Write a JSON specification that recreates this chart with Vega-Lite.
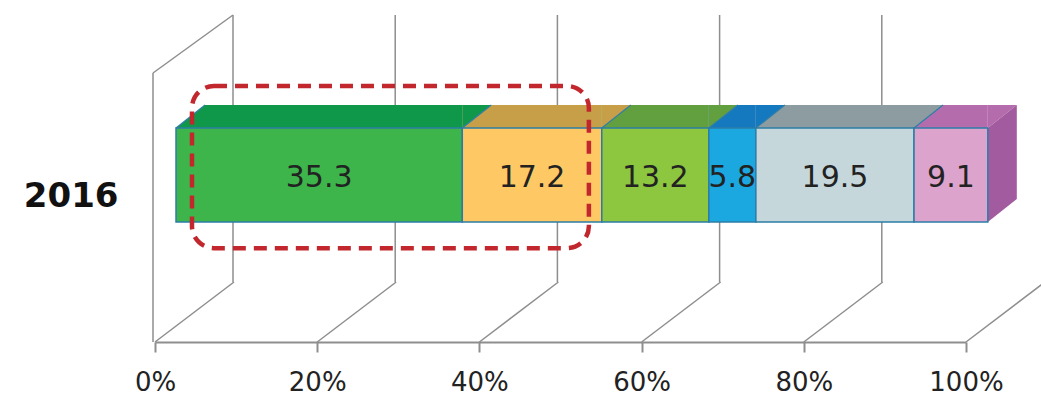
{
  "$schema": "https://vega.github.io/schema/vega-lite/v6.json",
  "width": 1041,
  "height": 342,
  "autosize": {"type": "none"},
  "padding": {"left": 0, "top": 0, "right": 0, "bottom": 55},
  "background": "white",
  "config": {"view": {"stroke": null}, "font": "DejaVu Sans"},
  "datasets": {
    "shares": [
      {"year": "2016", "segment": "A", "order": 1, "value": 35.3},
      {"year": "2016", "segment": "B", "order": 2, "value": 17.2},
      {"year": "2016", "segment": "C", "order": 3, "value": 13.2},
      {"year": "2016", "segment": "D", "order": 4, "value": 5.8},
      {"year": "2016", "segment": "E", "order": 5, "value": 19.5},
      {"year": "2016", "segment": "F", "order": 6, "value": 9.1}
    ],
    "ticks": [{"t": 0}, {"t": 20}, {"t": 40}, {"t": 60}, {"t": 80}, {"t": 100}]
  },
  "layer": [
    {
      "data": {"name": "ticks"},
      "mark": {"type": "rule", "x2Offset": 79, "color": "#8e8e8e", "strokeWidth": 1.5},
      "encoding": {
        "x": {"field": "t", "type": "quantitative",
          "scale": {"domain": [0, 100], "range": [155, 966], "nice": false, "zero": false},
          "axis": {"values": [0, 20, 40, 60, 80, 100], "labelExpr": "datum.value + '%'", "title": null, "grid": false,
            "domainColor": "#8e8e8e", "domainWidth": 2, "tickColor": "#8e8e8e", "tickWidth": 2, "tickSize": 10,
            "labelFont": "DejaVu Sans", "labelFontSize": 26, "labelColor": "#222222", "labelPadding": 17, "labelFlush": false}},
        "x2": {"field": "t"},
        "y": {"datum": 0, "type": "quantitative", "scale": {"domain": [0, 100], "range": [342, 15], "nice": false, "zero": false}, "axis": null},
        "y2": {"datum": 18.35}
      }
    },
    {
      "data": {"name": "ticks"},
      "mark": {"type": "rule", "xOffset": 78, "color": "#8e8e8e", "strokeWidth": 1.5},
      "encoding": {
        "x": {"field": "t", "type": "quantitative"},
        "y": {"datum": 18.35, "type": "quantitative", "axis": null},
        "y2": {"datum": 100}
      }
    },
    {
      "data": {"name": "ticks"},
      "transform": [{"filter": "datum.t == 0"}],
      "mark": {"type": "rule", "xOffset": -2, "color": "#8e8e8e", "strokeWidth": 1.5},
      "encoding": {
        "x": {"field": "t", "type": "quantitative"},
        "y": {"datum": 0, "type": "quantitative", "axis": null},
        "y2": {"datum": 82.26}
      }
    },
    {
      "data": {"name": "ticks"},
      "transform": [{"filter": "datum.t == 0"}],
      "mark": {"type": "rule", "xOffset": -2, "x2Offset": 78, "color": "#8e8e8e", "strokeWidth": 1.5},
      "encoding": {
        "x": {"field": "t", "type": "quantitative"},
        "x2": {"field": "t"},
        "y": {"datum": 82.26, "type": "quantitative", "axis": null},
        "y2": {"datum": 100}
      }
    },
    {
      "data": {"name": "shares"},
      "transform": [{"stack": "value", "groupby": ["year"], "sort": [{"field": "order", "order": "ascending"}], "as": ["v", "v_end"]}],
      "mark": {"type": "rect", "xOffset": 21, "x2Offset": 21, "strokeWidth": 0},
      "encoding": {
        "x": {"field": "v", "type": "quantitative"},
        "x2": {"field": "v_end"},
        "y": {"datum": 65.44, "type": "quantitative", "axis": null},
        "y2": {"datum": 72.48},
        "fill": {"field": "segment", "type": "nominal", "legend": null,
          "scale": {"domain": ["A", "B", "C", "D", "E", "F"], "range": ["#10984a", "#c79f48", "#62a03f", "#1479be", "#8d9ca0", "#b56cac"]}}
      }
    },
    {
      "data": {"name": "shares"},
      "transform": [{"stack": "value", "groupby": ["year"], "sort": [{"field": "order", "order": "ascending"}], "as": ["v", "v_end"]}],
      "mark": {"type": "point", "shape": "M0,-23L29,-23L0,0Z", "size": 4, "filled": true, "opacity": 1, "strokeWidth": 0, "xOffset": 21},
      "encoding": {
        "x": {"field": "v_end", "type": "quantitative"},
        "y": {"datum": 65.44, "type": "quantitative", "axis": null},
        "fill": {"field": "segment", "type": "nominal", "legend": null}
      }
    },
    {
      "data": {"name": "ticks"},
      "transform": [{"filter": "datum.t == 0"}],
      "mark": {"type": "point", "shape": "M0,-23L29,-23L0,0Z", "size": 4, "filled": true, "opacity": 1, "strokeWidth": 0, "xOffset": 21, "fill": "white"},
      "encoding": {
        "x": {"field": "t", "type": "quantitative"},
        "y": {"datum": 65.44, "type": "quantitative", "axis": null}
      }
    },
    {
      "data": {"name": "shares"},
      "transform": [
        {"stack": "value", "groupby": ["year"], "sort": [{"field": "order", "order": "ascending"}], "as": ["v", "v_end"]},
        {"filter": "datum.segment == 'F'"}
      ],
      "mark": {"type": "point", "shape": "M0,0L29,-23L29,71L0,94Z", "size": 4, "filled": true, "opacity": 1, "strokeWidth": 0, "xOffset": 21, "fill": "#a35b9f"},
      "encoding": {
        "x": {"field": "v_end", "type": "quantitative"},
        "y": {"datum": 65.44, "type": "quantitative", "axis": null}
      }
    },
    {
      "data": {"name": "shares"},
      "transform": [{"stack": "value", "groupby": ["year"], "sort": [{"field": "order", "order": "ascending"}], "as": ["v", "v_end"]}],
      "mark": {"type": "rule", "xOffset": 21, "x2Offset": 50, "color": "#2f7fa8", "strokeWidth": 1.2},
      "encoding": {
        "x": {"field": "v", "type": "quantitative"},
        "x2": {"field": "v"},
        "y": {"datum": 65.44, "type": "quantitative", "axis": null},
        "y2": {"datum": 72.48}
      }
    },
    {
      "data": {"name": "shares"},
      "transform": [{"stack": "value", "groupby": ["year"], "sort": [{"field": "order", "order": "ascending"}], "as": ["v", "v_end"]}],
      "mark": {"type": "rect", "xOffset": 21, "x2Offset": 21, "stroke": "#2c7da6", "strokeWidth": 1.5},
      "encoding": {
        "x": {"field": "v", "type": "quantitative"},
        "x2": {"field": "v_end"},
        "y": {"datum": 36.7, "type": "quantitative", "axis": null},
        "y2": {"datum": 65.44},
        "color": {"field": "segment", "type": "nominal", "legend": null,
          "scale": {"domain": ["A", "B", "C", "D", "E", "F"], "range": ["#3db54a", "#fec965", "#8dc63f", "#1ba8e0", "#c5d7da", "#dca3cd"]}}
      }
    },
    {
      "data": {"name": "shares"},
      "transform": [
        {"stack": "value", "groupby": ["year"], "sort": [{"field": "order", "order": "ascending"}], "as": ["v", "v_end"]},
        {"fold": ["v", "v_end"], "as": ["edge", "pos"]},
        {"aggregate": [{"op": "mean", "field": "pos", "as": "mid"}], "groupby": ["segment", "value"]}
      ],
      "mark": {"type": "text", "xOffset": 21, "fontSize": 30, "font": "DejaVu Sans", "color": "#222222", "align": "center", "baseline": "middle", "dy": 3},
      "encoding": {
        "x": {"field": "mid", "type": "quantitative"},
        "y": {"datum": 51.05, "type": "quantitative", "axis": null},
        "text": {"field": "value", "type": "quantitative", "format": ".1f"}
      }
    },
    {
      "data": {"name": "shares"},
      "transform": [{"filter": "datum.order == 1"}],
      "mark": {"type": "text", "fontSize": 34, "fontWeight": "bold", "font": "DejaVu Sans", "color": "#111111", "align": "right", "baseline": "middle"},
      "encoding": {
        "x": {"datum": -4.5, "type": "quantitative"},
        "y": {"datum": 44.3, "type": "quantitative", "axis": null},
        "text": {"field": "year", "type": "nominal"}
      }
    },
    {
      "data": {"name": "ticks"},
      "transform": [{"filter": "datum.t == 0"}],
      "mark": {"type": "rect", "filled": false, "stroke": "#c1272d", "strokeWidth": 4.5, "strokeDash": [13, 8], "cornerRadius": 22},
      "encoding": {
        "x": {"datum": 4.56, "type": "quantitative"},
        "x2": {"datum": 53.5},
        "y": {"datum": 78.3, "type": "quantitative", "axis": null},
        "y2": {"datum": 28.7}
      }
    }
  ]
}
